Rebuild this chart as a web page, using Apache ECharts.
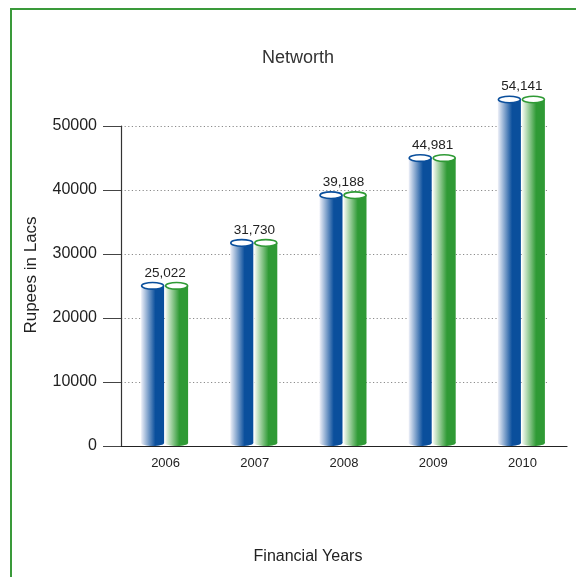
<!DOCTYPE html>
<html>
<head>
<meta charset="utf-8">
<script src="https://cdn.jsdelivr.net/npm/echarts@6/dist/echarts.min.js"></script>
<style>
html,body{margin:0;padding:0;background:#fff;}
#c{width:576px;height:577px;}
</style>
</head>
<body>
<div id="c"></div>
<script>
const categories = ['2006', '2007', '2008', '2009', '2010'];
const blueValues = [25022, 31730, 39188, 44981, 54141];
const greenValues = [25022, 31730, 39188, 44981, 54141];
const yTicks = [0, 10000, 20000, 30000, 40000, 50000];
const titleText = 'Networth';
const yName = 'Rupees in Lacs';
const xName = 'Financial Years';

const FONT = '"Liberation Sans", Arial, sans-serif';
const BW = 23;

function cylinder(offset, dark, light, withLabel) {
  return function (params, api) {
    const c = api.value(0), v = api.value(1);
    const top = api.coord([c, v]);
    const base = api.coord([c, 0]);
    const x0 = top[0] + offset;
    const grad = new echarts.graphic.LinearGradient(0, 0, 1, 0, [
      { offset: 0, color: light },
      { offset: 0.62, color: dark },
      { offset: 1, color: dark }
    ]);
    const children = [
      { type: 'rect', shape: { x: x0, y: top[1], width: BW, height: base[1] - top[1] - 3 }, style: { fill: grad } },
      { type: 'ellipse', shape: { cx: x0 + BW / 2, cy: base[1] - 3, rx: BW / 2, ry: 3 }, style: { fill: grad } },
      { type: 'ellipse', shape: { cx: x0 + BW / 2, cy: top[1], rx: BW / 2 - 0.5, ry: 3.3 }, style: { fill: '#ffffff', stroke: dark, lineWidth: 1.6 } }
    ];
    if (withLabel) {
      children.push({
        type: 'text',
        style: {
          text: Number(v).toLocaleString('en-US'),
          x: top[0] - 0.5, y: top[1] - 6,
          align: 'center', verticalAlign: 'bottom',
          font: '13.5px ' + FONT, fill: '#222'
        }
      });
    }
    return { type: 'group', children: children };
  };
}

const chart = echarts.init(document.getElementById('c'));
chart.setOption({
  animation: false,
  backgroundColor: '#fff',
  grid: [
    { left: 121, right: 9, top: 126, bottom: 131 },
    { left: 121, right: 28, top: 126, bottom: 131 }
  ],
  xAxis: [
    {
      type: 'category', data: categories, gridIndex: 0,
      axisLine: { lineStyle: { color: '#222', width: 1.2 } },
      axisTick: { length: 12, lineStyle: { color: '#444' } },
      axisLabel: { fontFamily: FONT, fontSize: 13, color: '#222', margin: 11 }
    },
    { type: 'value', gridIndex: 1, show: false, min: 0, max: 1 }
  ],
  yAxis: [
    {
      type: 'value', gridIndex: 0, min: yTicks[0], max: yTicks[yTicks.length - 1], interval: 10000,
      axisLine: { show: true, lineStyle: { color: '#333', width: 1.2 } },
      axisTick: { show: true, length: 18, lineStyle: { color: '#444' } },
      axisLabel: { fontFamily: FONT, fontSize: 16, color: '#222', margin: 24, formatter: function (v) { return String(v); } },
      splitLine: { show: false }
    },
    {
      type: 'value', gridIndex: 1, min: yTicks[0], max: yTicks[yTicks.length - 1], interval: 10000,
      axisLine: { show: false }, axisTick: { show: false }, axisLabel: { show: false },
      splitLine: { show: true, lineStyle: { color: '#8a8a8a', type: [1.2, 2.4], width: 1 } }
    }
  ],
  graphic: [
    { type: 'rect', shape: { x: 11, y: 9, width: 700, height: 700 }, style: { fill: 'none', stroke: '#3a9a3a', lineWidth: 2 }, z: 100 },
    { type: 'text', style: { text: titleText, x: 298, y: 58, align: 'center', verticalAlign: 'middle', font: '18px ' + FONT, fill: '#333' } },
    { type: 'text', rotation: Math.PI / 2, x: 31, y: 275, style: { text: yName, x: 0, y: 0, align: 'center', verticalAlign: 'middle', font: '17px ' + FONT, fill: '#222' } },
    { type: 'text', style: { text: xName, x: 308, y: 557, align: 'center', verticalAlign: 'middle', font: '16px ' + FONT, fill: '#222' } }
  ],
  series: [
    {
      type: 'custom', xAxisIndex: 0, yAxisIndex: 0, z: 5,
      data: categories.map((c, i) => [i, blueValues[i]]),
      renderItem: cylinder(-24.5, '#0a4f9c', '#eef0f8', true)
    },
    {
      type: 'custom', xAxisIndex: 0, yAxisIndex: 0, z: 5,
      data: categories.map((c, i) => [i, greenValues[i]]),
      renderItem: cylinder(-0.5, '#2f9a35', '#f8fbf4', false)
    }
  ]
});
</script>
</body>
</html>
